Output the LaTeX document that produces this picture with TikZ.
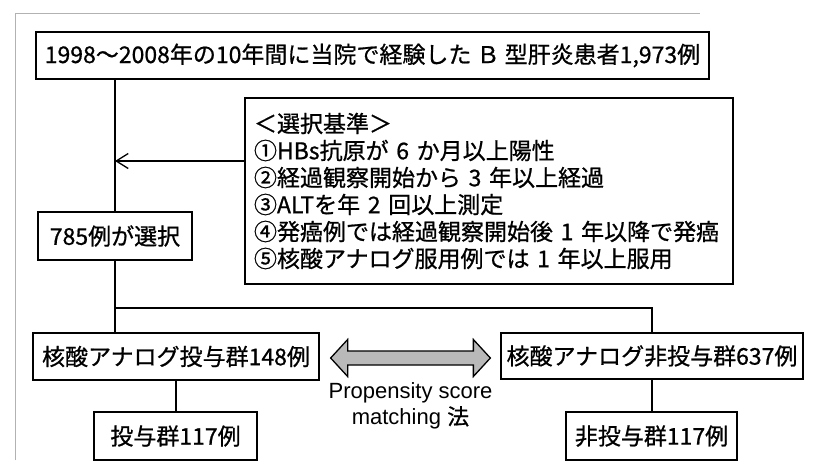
\documentclass[tikz,border=0pt]{standalone}
\usepackage{fontspec}
\setmainfont{Noto Sans CJK JP}[UprightFeatures={FakeBold=0.8}]
\newfontfamily\lat{Liberation Sans}
\usetikzlibrary{arrows.meta,calc}
\begin{document}
\begin{tikzpicture}[x=1pt,y=-1pt,
  box/.style={draw, line width=1.3pt, inner sep=0pt, font=\fontsize{23}{26}\selectfont},
  conn/.style={line width=1.3pt},
  barb/.style={conn, -{Straight Barb[length=12pt,width=15pt]}},
  frameline/.style={gray!60, line width=0.8pt},
]
\useasboundingbox (0,0) rectangle (813,471);
\fill[white] (0,0) rectangle (813,471);
\draw[frameline] (15,460) -- (15,13) -- (700,13);

\node[box, minimum width=673pt, minimum height=47pt] (top) at (372.5,55.5)
  {1998～2008年の10年間に当院で経験した Ｂ 型肝炎患者1,973例};
\node[box, minimum width=154pt, minimum height=48pt] (sel) at (115,236) {785例が選択};
\node[box, minimum width=488pt, minimum height=186pt, text width=470pt, align=left,
      font=\fontsize{23}{27}\selectfont] (crit) at (489,191)
  {＜選択基準＞\\
   ①HBs抗原が 6 か月以上陽性\\
   ②経過観察開始から 3 年以上経過\\
   ③ALTを年 2 回以上測定\\
   ④発癌例では経過観察開始後 1 年以降で発癌\\
   ⑤核酸アナログ服用例では 1 年以上服用};
\node[box, minimum width=286pt, minimum height=47pt] (ml) at (176,356.5) {核酸アナログ投与群148例};
\node[box, minimum width=302pt, minimum height=46pt] (mr) at (652,356) {核酸アナログ非投与群637例};
\node[box, minimum width=163pt, minimum height=48pt] (bl) at (175.5,436) {投与群117例};
\node[box, minimum width=171pt, minimum height=48pt] (br) at (651.5,436) {非投与群117例};
\node[font=\lat\fontsize{22}{26}\selectfont, align=center] (ps) at (410.5,406)
  {Propensity score\\matching {\rmfamily 法}};

\coordinate (j1) at (115,308);
\coordinate (j2) at (652,308);
\coordinate (a1) at (115,161);

\draw[conn] (top.south -| sel.north) -- (sel.north);
\draw[barb] (crit.west |- a1) -- (a1);
\draw[conn] (sel.south) -- (j1) -- (j2) -- (mr.north);
\draw[conn] (j1) -- (j1 |- ml.north);
\draw[conn] (ml.south) -- (ml.south |- bl.north);
\draw[conn] (mr.south) -- (mr.south |- br.north);

% double arrow between groups
\coordinate (dl) at ($(ml.east)+(11,1.5)$);
\coordinate (dr) at ($(mr.west)+(-10,2)$);
\draw[line width=1.3pt, fill=gray!55, line join=miter]
  (dl) -- ++(17,-18.5) -- ++(0,11.5) -- ($(dr)+(-17,-7)$) -- ++(0,-11.5) -- (dr)
  -- ++(-17,18.5) -- ++(0,-11.5) -- ($(dl)+(17,7)$) -- ++(0,11.5) -- cycle;
\end{tikzpicture}
\end{document}
